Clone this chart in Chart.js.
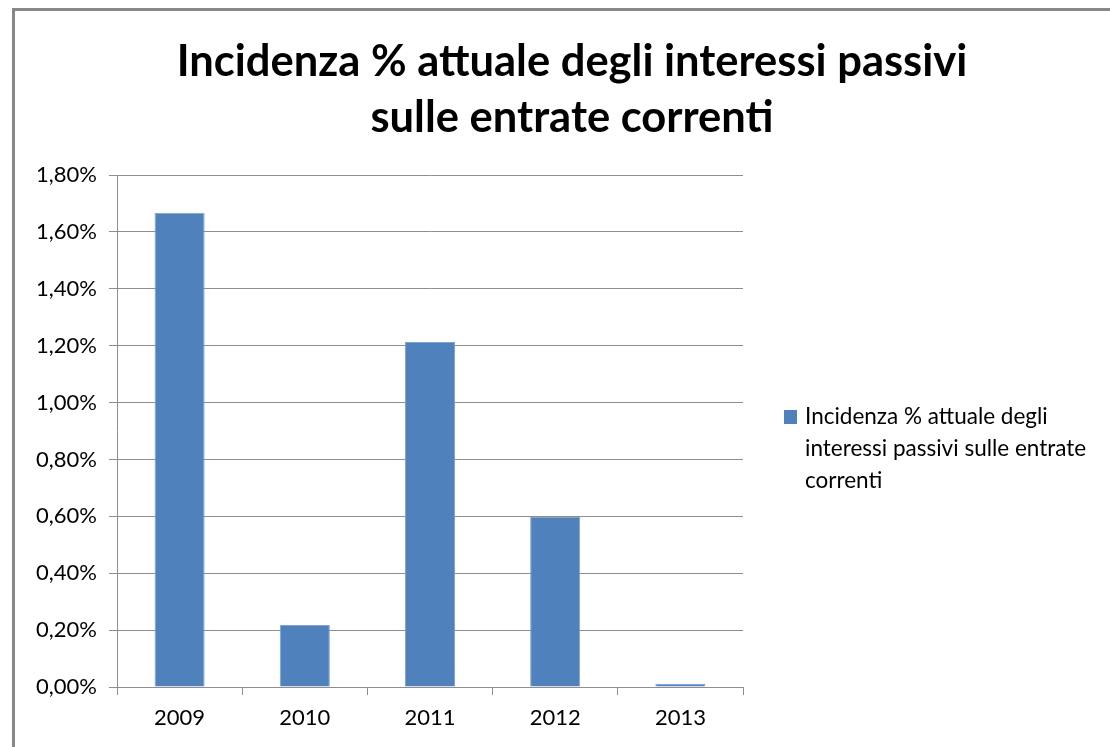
<!DOCTYPE html>
<html>
<head>
<meta charset="utf-8">
<script src="https://cdn.jsdelivr.net/npm/chart.js@4/dist/chart.umd.min.js"></script>
<style>
  html, body { margin: 0; padding: 0; background: #fff; overflow: hidden; }
  #wrap { position: relative; width: 1110px; height: 747px; }
  #frame { position: absolute; left: 12px; top: 8px; width: 1200px; height: 900px;
           border-left: 3px solid #888; border-top: 3px solid #888; box-sizing: border-box; }
  canvas { position: absolute; left: 0; top: 0; }
</style>
</head>
<body>
<div id="wrap">
  <div id="frame"></div>
  <canvas id="c" width="1110" height="747"></canvas>
</div>
<script>
const categories = ['2009', '2010', '2011', '2012', '2013'];
const values = [1.667, 0.218, 1.213, 0.598, 0.011];
const titleLines = ['Incidenza % attuale degli interessi passivi', 'sulle entrate correnti'];
const legendLines = ['Incidenza % attuale degli', 'interessi passivi sulle entrate', 'correnti'];
const yTicks = [0, 0.2, 0.4, 0.6, 0.8, 1.0, 1.2, 1.4, 1.6, 1.8];

const FONT = "Lato, 'Open Sans', 'Liberation Sans', sans-serif";
const GRID = '#8E8E8E';
const BAR = '#4F81BD';

const legendPlugin = {
  id: 'sideLegend',
  afterDraw(chart) {
    const ctx = chart.ctx;
    const ds = chart.data.datasets[0];
    ctx.save();
    ctx.fillStyle = ds.backgroundColor;
    ctx.fillRect(784, 410, 13, 14);
    ctx.fillStyle = '#000';
    ctx.font = "22.5px " + FONT;
    ctx.textBaseline = 'middle';
    ctx.textAlign = 'left';
    legendLines.forEach((l, i) => ctx.fillText(l, 805, 417 + i * 32));
    ctx.restore();
  }
};

new Chart(document.getElementById('c'), {
  type: 'bar',
  data: {
    labels: categories,
    datasets: [{
      label: legendLines.join(' '),
      data: values,
      backgroundColor: BAR,
      borderColor: '#7FA2D0',
      borderWidth: 1,
      barPercentage: 0.4,
      categoryPercentage: 1.0
    }]
  },
  options: {
    responsive: false,
    animation: false,
    layout: { padding: { left: 34, right: 0, top: 0, bottom: 0 } },
    plugins: {
      legend: { display: false },
      tooltip: { enabled: false },
      title: {
        display: true,
        text: titleLines,
        color: '#000',
        font: { family: FONT, size: 43.5, weight: 'bold', lineHeight: '56px' },
        padding: { top: 34, bottom: 29 }
      }
    },
    scales: {
      x: {
        afterFit: (s) => { s.height = 60; },
        grid: { display: true, drawOnChartArea: false, drawTicks: true, tickLength: 8, color: GRID, offset: true },
        border: { display: true, color: GRID, width: 1 },
        ticks: { color: '#000', font: { family: FONT, size: 22 }, padding: 10 }
      },
      y: {
        min: 0, max: 1.8,
        afterBuildTicks: (s) => { s.ticks = yTicks.map(v => ({ value: v })); },
        afterFit: (s) => { s.width = 83; },
        grid: { color: GRID, tickLength: 8, drawTicks: true },
        border: { display: true, color: GRID, width: 1 },
        ticks: {
          color: '#000', font: { family: FONT, size: 22 }, padding: 12,
          callback: (v) => v.toFixed(2).replace('.', ',') + '%'
        }
      },
      yRight: {
        position: 'right',
        display: true,
        grid: { display: false },
        border: { display: false },
        ticks: { display: false },
        afterFit: (s) => { s.width = 367; }
      }
    }
  },
  plugins: [legendPlugin]
});
</script>
</body>
</html>
